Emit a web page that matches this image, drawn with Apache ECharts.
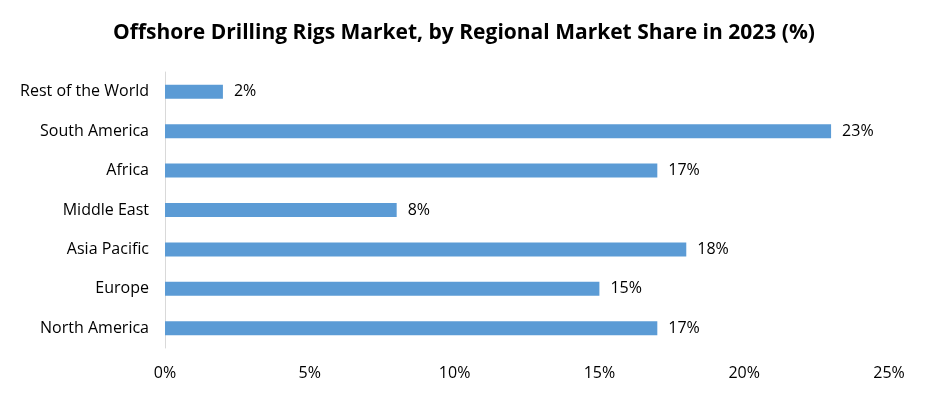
<!DOCTYPE html>
<html lang="en">
<head>
  <meta charset="UTF-8">
  <title>Offshore Drilling Rigs Market</title>
  <style>
    html, body { margin: 0; height: 100%; width: 100%; background: #fff; }
  </style>
</head>
<body>
  <div id="chart" style="width:928px;height:397px"></div>
  <script src="https://cdn.jsdelivr.net/npm/echarts@6/dist/echarts.min.js"></script>
  <script>
    const regions = ['North America', 'Europe', 'Asia Pacific', 'Middle East', 'Africa', 'South America', 'Rest of the World']
    const shares = [17, 15, 18, 8, 17, 23, 2]
    const xTicks = [0, 5, 10, 15, 20, 25]

    const font = 'Open Sans, Liberation Sans, sans-serif'

    const option = {
      backgroundColor: '#fff',
      title: {
        text: 'Offshore Drilling Rigs Market, by Regional Market Share in 2023 (%)',
        left: 'center',
        top: 18,
        textStyle: { fontFamily: font, fontSize: 21, fontWeight: 'bold', color: '#000' }
      },
      grid: { left: 165, right: 39, top: 72, bottom: 49 },
      xAxis: {
        type: 'value',
        min: xTicks[0],
        max: xTicks[xTicks.length - 1],
        interval: 5,
        axisLine: { show: false },
        axisTick: { show: false },
        splitLine: { show: false },
        axisLabel: {
          formatter: '{value}%',
          margin: 17,
          fontFamily: font,
          fontSize: 16,
          color: '#000'
        }
      },
      yAxis: {
        type: 'category',
        data: regions,
        axisLine: { show: true, lineStyle: { color: '#d9d9d9', width: 1 } },
        axisTick: { show: false },
        axisLabel: { margin: 16, fontFamily: font, fontSize: 16, color: '#000' }
      },
      series: [{
        type: 'bar',
        data: shares,
        barWidth: 14,
        itemStyle: { color: '#5b9bd5' },
        label: {
          show: true,
          position: 'right',
          distance: 11,
          formatter: '{c}%',
          fontFamily: font,
          fontSize: 16,
          color: '#000'
        }
      }]
    }

    const myChart = echarts.init(document.getElementById('chart'))
    myChart.setOption(option)
  </script>
</body>
</html>
